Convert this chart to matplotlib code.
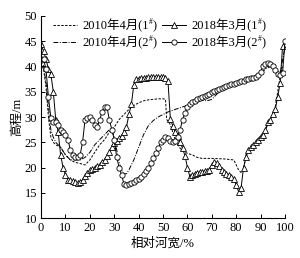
import numpy as np
import matplotlib
matplotlib.use('Agg')
import matplotlib.pyplot as plt

plt.rcParams['font.family'] = ['Liberation Serif', 'Noto Sans CJK SC']

# 2010年4月(1#) - dashed
x_2010_1 = [0, 1, 2, 3, 4, 5, 6, 8, 10, 12, 14, 16, 18, 20, 22, 24, 26, 28, 30, 32, 34, 36, 38, 40,
            42, 44, 46, 48, 50, 51, 51.5, 52, 53, 54, 55, 56, 57, 58, 60, 62, 64, 66, 70, 75, 79, 80,
            81, 82, 83, 84, 86, 88, 90, 92, 94, 96, 98, 99]
y_2010_1 = [40, 39.5, 36, 30, 26, 25, 24.5, 24, 22.5, 21.5, 21, 20.8, 20.5, 21.5, 23, 24.5, 25.5, 27,
            28, 29.5, 30.5, 31.5, 32.3, 32.8, 33.2, 33.4, 33.5, 33.6, 33.6, 33.5, 29.5, 29.2, 28.5, 27,
            25.5, 24.5, 23.8, 23.3, 22.8, 22.5, 22, 21.8, 21.8, 21.7, 21.5, 20.5, 19.5, 19, 19.5, 22.5,
            23.8, 25, 26.3, 27.5, 29.5, 32, 38, 40]

# 2010年4月(2#) - dash-dot
x_2010_2 = [0, 1, 2, 3, 4, 5, 6, 8, 10, 12, 14, 16, 18, 20, 22, 24, 26, 28, 29, 30, 31, 32, 33, 34,
            35, 36, 38, 40, 42, 44, 46, 48, 50, 52, 55, 58, 60, 62, 64, 66, 68, 70, 72, 74, 76, 78, 80,
            85, 90, 92, 94, 96, 98, 100]
y_2010_2 = [42, 40, 37, 32, 27.5, 26, 25, 24, 22.5, 21.5, 21.5, 21.5, 22, 23, 24.5, 25.5, 26.5, 27.5,
            27.5, 26, 23.5, 21, 19.5, 18.7, 18.8, 19.5, 21.5, 24, 26.5, 28.3, 29.3, 30, 30.5, 31, 31.5,
            32, 32.3, 32.6, 33, 33.3, 33.2, 33.5, 34.5, 35.2, 35.8, 36.2, 36.6, 37.5, 38.5, 39.5, 40,
            39.5, 38.5, 44]

# 2018年3月(1#) - triangles
x_2018_1 = list(range(0, 100))
y_2018_1 = [44.5, 43, 41.5, 39.5, 38.5, 35, 29.5, 27, 22.5, 20, 18.5, 17.5, 17.5, 17.3, 17.2, 17,
            17.2, 17.5, 18.3, 19, 19.5, 19.7, 20, 20.2, 20.5, 21, 21.5, 22.3, 23, 24, 24.8, 25.3,
            25.8, 26.3, 27, 28, 30.5, 32.5, 36.3, 37.5, 37.6, 37.7, 37.8, 37.8, 37.9, 38, 38, 38,
            38, 38, 38, 37.8, 37.2, 29.7, 28.2, 27, 26.2, 25, 23.8, 22.3, 20, 18.2, 18.5, 18.8, 19,
            19.1, 19.2, 19.3, 19.4, 19.6, 20.5, 21, 20.8, 20.2, 19.6, 19.2, 18.8, 18.5, 18.2, 17.8,
            16.5, 15.2, 16, 20, 22, 23.5, 24, 24.5, 25, 25.5, 26, 26.5, 27.5, 29, 29.5, 30.5, 31.5,
            34, 36.7, 44]

# 2018年3月(2#) - circles
x_2018_2 = list(range(0, 101))
y_2018_2 = [41.5, 41.5, 39.5, 34, 29.8, 29, 29, 28.5, 27.5, 27, 26.5, 25.5, 23.5, 22.5, 22, 22,
            22.5, 25, 29.4, 29.8, 30, 29.5, 28.5, 28, 29.4, 31, 32, 32, 29.4, 27.5, 25.5, 22, 20,
            18.5, 16.7, 16.5, 16.7, 17, 17.2, 17.5, 17.8, 18.2, 18.7, 19.3, 20, 20.8, 21.8, 22.8,
            23.8, 25, 25.5, 26, 25.8, 25.3, 25, 25.3, 26, 27.5, 29.5, 30.8, 32, 32.5, 32.9, 33.2,
            33.5, 33.7, 33.9, 34.1, 34.3, 34.6, 34.9, 35.2, 35.4, 35.6, 35.8, 36, 36.2, 36.4, 36.5,
            36.6, 36.8, 37, 37.1, 37.2, 37.5, 37.6, 37.8, 37.8, 38, 38.3, 39, 40, 40.4, 40.6, 40.4,
            40, 39.3, 38.5, 38.3, 38.7, 45]

# label text is split so that "#" can be drawn as a small superscript afterwards
labels = ['2010年4月(1', '2010年4月(2', '2018年3月(1', '2018年3月(2']

fig = plt.figure(figsize=(3.0, 2.58), dpi=100)
ax = fig.add_axes([0.137, 0.155, 0.813, 0.783])

lw = 0.7
ax.plot(x_2010_1, y_2010_1, color='black', lw=lw, ls=(0, (2.5, 1.5)), label=labels[0])
ax.plot(x_2010_2, y_2010_2, color='black', lw=lw, ls=(0, (5, 1.5, 1, 1.5)), label=labels[1])
ax.plot(x_2018_1, y_2018_1, color='black', lw=lw, marker='^', ms=3.8, mfc='white', mec='black',
        mew=0.6, label=labels[2])
ax.plot(x_2018_2, y_2018_2, color='black', lw=lw, marker='o', ms=3.8, mfc='white', mec='black',
        mew=0.6, label=labels[3])

ax.set_xlim(0, 100)
ax.set_ylim(10, 50)
ax.set_xticks(np.arange(0, 101, 10))
ax.set_yticks(np.arange(10, 51, 5))
ax.spines['top'].set_visible(False)
ax.spines['right'].set_visible(False)
ax.tick_params(direction='in', length=3, width=0.7, labelsize=9, pad=3)
for s in ['left', 'bottom']:
    ax.spines[s].set_linewidth(0.8)

ax.set_xlabel('相对河宽/%', fontsize=9, labelpad=2)
ax.set_ylabel('高程/m', fontsize=9, labelpad=1)

leg = ax.legend(loc='upper left', bbox_to_anchor=(0.03, 1.01), ncol=2, frameon=False, fontsize=9,
                handlelength=1.9, handletextpad=0.4, columnspacing=1.1, labelspacing=0.3,
                borderaxespad=0)

# add superscript "#" and closing bracket after each legend label
fig.canvas.draw()
r = fig.canvas.get_renderer()
for t in leg.get_texts():
    bb = t.get_window_extent(r)
    sup = fig.text(bb.x1 + 0.3, bb.y0 + bb.height * 0.45, '#', fontsize=5.5,
                   transform=None, ha='left', va='bottom')
    sb = sup.get_window_extent(r)
    fig.text(sb.x1 + 0.2, bb.y0, ')', fontsize=9, transform=None, ha='left', va='bottom')

fig.savefig('out.png', dpi=100)
